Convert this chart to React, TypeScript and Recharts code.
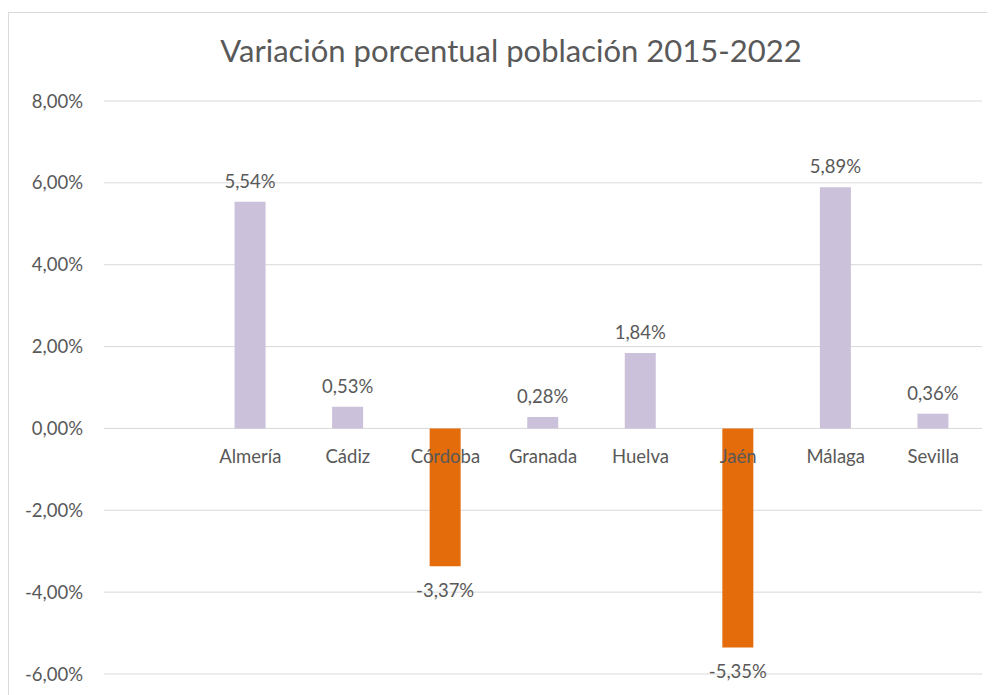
import { BarChart, Bar, XAxis, YAxis, CartesianGrid, Cell, LabelList } from "recharts";

const provincias = ["", "Almería", "Cádiz", "Córdoba", "Granada", "Huelva", "Jaén", "Málaga", "Sevilla"];
const variacion = [null, 5.54, 0.53, -3.37, 0.28, 1.84, -5.35, 5.89, 0.36];
const yTicks = [-6, -4, -2, 0, 2, 4, 6, 8];

const data = provincias.map((name, i) => ({ name, value: variacion[i] }));

const W = 990;
const H = 690;
const MARGIN = { top: 88, right: 17, bottom: 28, left: 0 };
const Y_MIN = -6;
const Y_MAX = 8;
const TEXT = "#595959";
const FONT = "Lato, 'Noto Sans', sans-serif";

const fmt = (v: number) => `${v.toFixed(2).replace(".", ",")}%`;

// y of the zero line, from the fixed domain and plot height
const plotH = H - MARGIN.top - MARGIN.bottom - 1;
const zeroY = MARGIN.top + (plotH * (Y_MAX - 0)) / (Y_MAX - Y_MIN);

const CategoryTick = (props: any) => {
  const { x, payload } = props;
  return (
    <text x={x} y={zeroY + 35} textAnchor="middle" fill={TEXT} fontSize={18.5} fontFamily={FONT}>
      {payload.value}
    </text>
  );
};

const ValueLabel = (props: any) => {
  const { x, y, width, height, value } = props;
  if (value == null) return null;
  const top = Math.min(y, y + height);
  const bottom = Math.max(y, y + height);
  const cx = x + width / 2;
  const ty = value >= 0 ? top - 14 : bottom + 31;
  return (
    <text x={cx} y={ty} textAnchor="middle" fill={TEXT} fontSize={18.5} fontFamily={FONT}>
      {fmt(value)}
    </text>
  );
};

export default function App() {
  return (
    <div
      style={{
        position: "relative",
        marginTop: 4,
        width: 1000,
        height: 700,
        border: "1px solid #d9d9d9",
        background: "#fff",
        fontFamily: FONT,
      }}
    >
      <div
        style={{
          position: "absolute",
          left: 0,
          width: 1000,
          top: 18,
          textAlign: "center",
          fontSize: 31,
          color: TEXT,
        }}
      >
        <span style={{ position: "relative", left: 2 }}>Variación porcentual población 2015-2022</span>
      </div>
      <BarChart width={W} height={H} data={data} margin={MARGIN} barSize={31}>
        <CartesianGrid vertical={false} stroke="#d9d9d9" strokeWidth={1} />
        <YAxis
          domain={[Y_MIN, Y_MAX]}
          ticks={yTicks}
          width={95}
          tickFormatter={fmt}
          axisLine={false}
          tickLine={false}
          tickSize={0}
          tickMargin={21}
          tick={{ fill: TEXT, fontSize: 18.5, fontFamily: FONT }}
        />
        <Bar dataKey="value" isAnimationActive={false}>
          {data.map((d, i) => (
            <Cell key={`cell-${i}`} fill={d.value != null && d.value < 0 ? "#E46C0A" : "#CCC1DA"} />
          ))}
          <LabelList dataKey="value" content={<ValueLabel />} />
        </Bar>
        <XAxis
          dataKey="name"
          height={1}
          axisLine={false}
          tickLine={false}
          interval={0}
          tick={<CategoryTick />}
        />
      </BarChart>
    </div>
  );
}
